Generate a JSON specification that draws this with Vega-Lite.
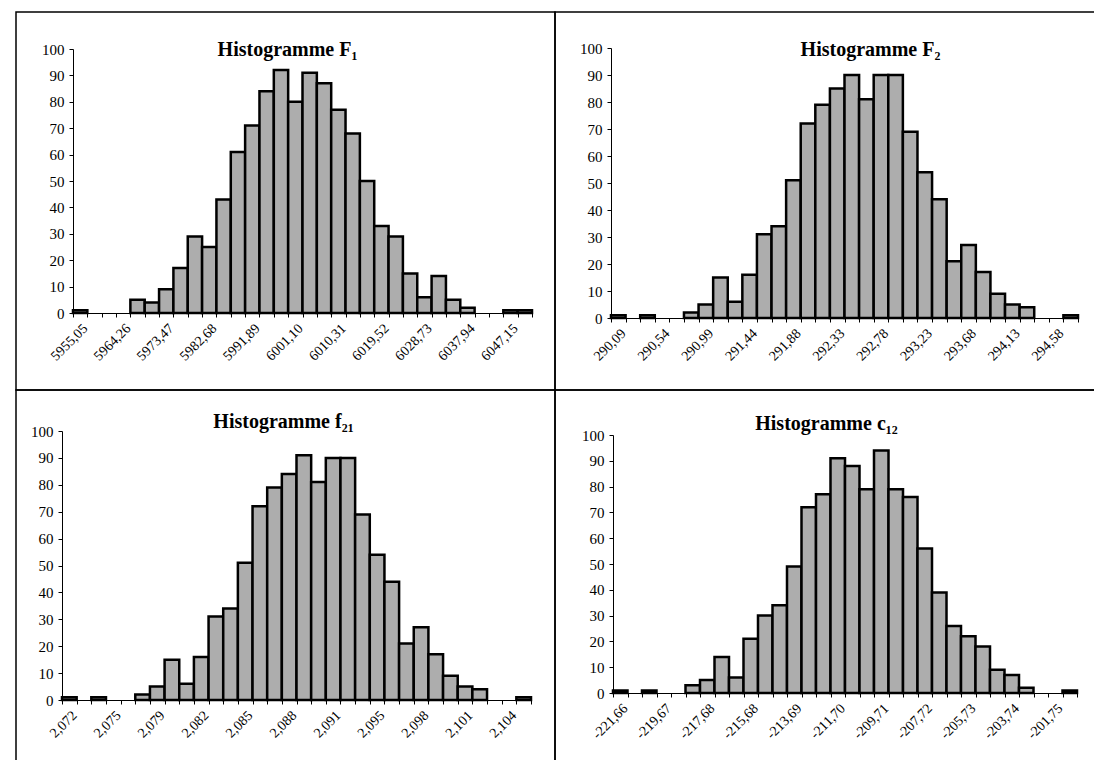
{
  "$schema": "https://vega.github.io/schema/vega-lite/v6.json",
  "background": "white",
  "padding": {"left": 15, "top": 11, "right": 0, "bottom": 0},
  "bounds": "flush",
  "spacing": 0,
  "columns": 2,
  "config": {
    "view": {"stroke": "black", "strokeWidth": 1.5},
    "font": "Liberation Serif",
    "axis": {
      "grid": false,
      "domainColor": "black",
      "domainWidth": 1,
      "tickColor": "black",
      "tickSize": 4,
      "labelColor": "black",
      "labelFont": "Liberation Serif",
      "title": null
    },
    "axisX": {"labelAngle": -45, "labelFontSize": 14, "labelOverlap": false, "tickBand": "extent", "labelPadding": 4},
    "axisY": {"labelFontSize": 15, "labelPadding": 5, "values": [0, 10, 20, 30, 40, 50, 60, 70, 80, 90, 100]},
    "title": {"font": "Liberation Serif", "fontSize": 20, "fontWeight": "bold", "color": "black", "anchor": "middle", "frame": "group"},
    "bar": {"fill": "#adadad", "stroke": "black", "strokeWidth": 2.5}
  },
  "datasets": {
    "F1": [
      {"b": "5955,05", "n": 1}, {"b": "5958,12", "n": 0}, {"b": "5961,19", "n": 0}, {"b": "5964,26", "n": 0},
      {"b": "5967,33", "n": 5}, {"b": "5970,40", "n": 4}, {"b": "5973,47", "n": 9}, {"b": "5976,54", "n": 17},
      {"b": "5979,61", "n": 29}, {"b": "5982,68", "n": 25}, {"b": "5985,75", "n": 43}, {"b": "5988,82", "n": 61},
      {"b": "5991,89", "n": 71}, {"b": "5994,96", "n": 84}, {"b": "5998,03", "n": 92}, {"b": "6001,10", "n": 80},
      {"b": "6004,17", "n": 91}, {"b": "6007,24", "n": 87}, {"b": "6010,31", "n": 77}, {"b": "6013,38", "n": 68},
      {"b": "6016,45", "n": 50}, {"b": "6019,52", "n": 33}, {"b": "6022,59", "n": 29}, {"b": "6025,66", "n": 15},
      {"b": "6028,73", "n": 6}, {"b": "6031,80", "n": 14}, {"b": "6034,87", "n": 5}, {"b": "6037,94", "n": 2},
      {"b": "6041,01", "n": 0}, {"b": "6044,08", "n": 0}, {"b": "6047,15", "n": 1}, {"b": "6050,22", "n": 1}
    ],
    "F2": [
      {"b": "290,09", "n": 1}, {"b": "290,24", "n": 0}, {"b": "290,39", "n": 1}, {"b": "290,54", "n": 0},
      {"b": "290,69", "n": 0}, {"b": "290,84", "n": 2}, {"b": "290,99", "n": 5}, {"b": "291,14", "n": 15},
      {"b": "291,29", "n": 6}, {"b": "291,44", "n": 16}, {"b": "291,59", "n": 31}, {"b": "291,73", "n": 34},
      {"b": "291,88", "n": 51}, {"b": "292,03", "n": 72}, {"b": "292,18", "n": 79}, {"b": "292,33", "n": 85},
      {"b": "292,48", "n": 90}, {"b": "292,63", "n": 81}, {"b": "292,78", "n": 90}, {"b": "292,93", "n": 90},
      {"b": "293,08", "n": 69}, {"b": "293,23", "n": 54}, {"b": "293,38", "n": 44}, {"b": "293,53", "n": 21},
      {"b": "293,68", "n": 27}, {"b": "293,83", "n": 17}, {"b": "293,98", "n": 9}, {"b": "294,13", "n": 5},
      {"b": "294,28", "n": 4}, {"b": "294,43", "n": 0}, {"b": "294,58", "n": 0}, {"b": "294,73", "n": 1}
    ],
    "f21": [
      {"b": "2,072", "n": 1}, {"b": "2,073", "n": 0}, {"b": "2,074", "n": 1}, {"b": "2,075", "n": 0},
      {"b": "2,076", "n": 0}, {"b": "2,078", "n": 2}, {"b": "2,079", "n": 5}, {"b": "2,080", "n": 15},
      {"b": "2,081", "n": 6}, {"b": "2,082", "n": 16}, {"b": "2,083", "n": 31}, {"b": "2,084", "n": 34},
      {"b": "2,085", "n": 51}, {"b": "2,086", "n": 72}, {"b": "2,087", "n": 79}, {"b": "2,088", "n": 84},
      {"b": "2,089", "n": 91}, {"b": "2,090", "n": 81}, {"b": "2,091", "n": 90}, {"b": "2,093", "n": 90},
      {"b": "2,094", "n": 69}, {"b": "2,095", "n": 54}, {"b": "2,096", "n": 44}, {"b": "2,097", "n": 21},
      {"b": "2,098", "n": 27}, {"b": "2,099", "n": 17}, {"b": "2,100", "n": 9}, {"b": "2,101", "n": 5},
      {"b": "2,102", "n": 4}, {"b": "2,103", "n": 0}, {"b": "2,104", "n": 0}, {"b": "2,105", "n": 1}
    ],
    "c12": [
      {"b": "-221,66", "n": 1}, {"b": "-220,99", "n": 0}, {"b": "-220,33", "n": 1}, {"b": "-219,67", "n": 0},
      {"b": "-219,00", "n": 0}, {"b": "-218,34", "n": 3}, {"b": "-217,68", "n": 5}, {"b": "-217,01", "n": 14},
      {"b": "-216,35", "n": 6}, {"b": "-215,68", "n": 21}, {"b": "-215,02", "n": 30}, {"b": "-214,36", "n": 34},
      {"b": "-213,69", "n": 49}, {"b": "-213,03", "n": 72}, {"b": "-212,37", "n": 77}, {"b": "-211,70", "n": 91},
      {"b": "-211,04", "n": 88}, {"b": "-210,38", "n": 79}, {"b": "-209,71", "n": 94}, {"b": "-209,05", "n": 79},
      {"b": "-208,38", "n": 76}, {"b": "-207,72", "n": 56}, {"b": "-207,06", "n": 39}, {"b": "-206,39", "n": 26},
      {"b": "-205,73", "n": 22}, {"b": "-205,07", "n": 18}, {"b": "-204,40", "n": 9}, {"b": "-203,74", "n": 7},
      {"b": "-203,08", "n": 2}, {"b": "-202,41", "n": 0}, {"b": "-201,75", "n": 0}, {"b": "-201,08", "n": 1}
    ]
  },
  "concat": [
    {
      "width": 539, "height": 378,
      "title": {"text": "Histogramme F₁", "offset": -48, "dx": 2},
      "data": {"name": "F1"},
      "mark": "bar",
      "encoding": {
        "x": {"field": "b", "type": "ordinal", "sort": null,
              "scale": {"range": [57, 516], "paddingInner": 0, "paddingOuter": 0},
              "axis": {"offset": -77,
                       "labelExpr": "indexof(['5955,05','5964,26','5973,47','5982,68','5991,89','6001,10','6010,31','6019,52','6028,73','6037,94','6047,15'], datum.label) >= 0 ? datum.label : ''"}},
        "y": {"field": "n", "type": "quantitative",
              "scale": {"domain": [0, 100], "range": [301, 37], "nice": false},
              "axis": {"offset": -57}},
        "strokeOpacity": {"condition": {"test": "datum.n == 0", "value": 0}, "value": 1}
      }
    },
    {
      "width": 545, "height": 378,
      "title": {"text": "Histogramme F₂", "offset": -48, "dx": 43},
      "data": {"name": "F2"},
      "mark": "bar",
      "encoding": {
        "x": {"field": "b", "type": "ordinal", "sort": null,
              "scale": {"range": [56, 523], "paddingInner": 0, "paddingOuter": 0},
              "axis": {"offset": -72,
                       "labelExpr": "indexof(['290,09','290,54','290,99','291,44','291,88','292,33','292,78','293,23','293,68','294,13','294,58'], datum.label) >= 0 ? datum.label : ''"}},
        "y": {"field": "n", "type": "quantitative",
              "scale": {"domain": [0, 100], "range": [306, 36], "nice": false},
              "axis": {"offset": -56}},
        "strokeOpacity": {"condition": {"test": "datum.n == 0", "value": 0}, "value": 1}
      }
    },
    {
      "width": 539, "height": 380,
      "title": {"text": "Histogramme f₂₁", "offset": -42, "dx": -2},
      "data": {"name": "f21"},
      "mark": "bar",
      "encoding": {
        "x": {"field": "b", "type": "ordinal", "sort": null,
              "scale": {"range": [46, 515], "paddingInner": 0, "paddingOuter": 0},
              "axis": {"offset": -70,
                       "labelExpr": "indexof(['2,072','2,075','2,079','2,082','2,085','2,088','2,091','2,095','2,098','2,101','2,104'], datum.label) >= 0 ? datum.label : ''"}},
        "y": {"field": "n", "type": "quantitative",
              "scale": {"domain": [0, 100], "range": [310, 41], "nice": false},
              "axis": {"offset": -46}},
        "strokeOpacity": {"condition": {"test": "datum.n == 0", "value": 0}, "value": 1}
      }
    },
    {
      "width": 545, "height": 380,
      "title": {"text": "Histogramme c₁₂", "offset": -44, "dx": -1},
      "data": {"name": "c12"},
      "mark": "bar",
      "encoding": {
        "x": {"field": "b", "type": "ordinal", "sort": null,
              "scale": {"range": [58, 522], "paddingInner": 0, "paddingOuter": 0},
              "axis": {"offset": -77,
                       "labelExpr": "indexof(['-221,66','-219,67','-217,68','-215,68','-213,69','-211,70','-209,71','-207,72','-205,73','-203,74','-201,75'], datum.label) >= 0 ? datum.label : ''"}},
        "y": {"field": "n", "type": "quantitative",
              "scale": {"domain": [0, 100], "range": [303, 45], "nice": false},
              "axis": {"offset": -58}},
        "strokeOpacity": {"condition": {"test": "datum.n == 0", "value": 0}, "value": 1}
      }
    }
  ]
}
